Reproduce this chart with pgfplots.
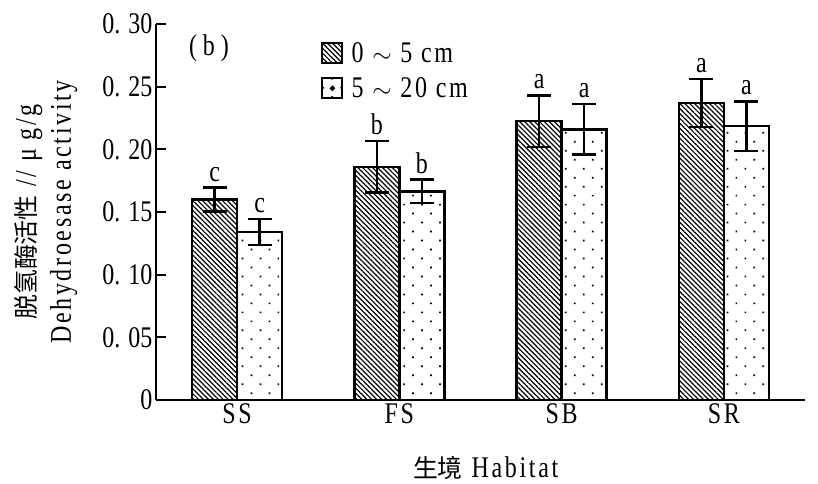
\documentclass[border=0pt]{standalone}
\usepackage{fontspec}
\setmainfont{Liberation Serif}[FakeStretch=0.8]
\newfontfamily\lsfont{Liberation Serif}[FakeStretch=0.8, LetterSpace=9]
\newfontfamily\cjk{Noto Sans CJK SC}[Scale=0.83]
\usepackage{pgfplots}
\pgfplotsset{compat=1.18}
\usepackage{pgfplotstable}
\usetikzlibrary{patterns.meta}

\pgfplotstableread{
x y e lab
0 0.160 0.0095 c
1 0.186 0.0205 b
2 0.2225 0.0205 a
3 0.237 0.0190 a
}\tabA
\pgfplotstableread{
x y e lab
0 0.134 0.0105 c
1 0.1665 0.0093 b
2 0.216 0.0203 a
3 0.2185 0.0198 a
}\tabB

\begin{document}
\begin{tikzpicture}[font=\fontsize{30}{36}\selectfont]
\useasboundingbox (0,0) rectangle (818pt,483pt);
\begin{axis}[
  at={(156pt,83pt)}, anchor=south west,
  width=649pt, height=376pt, scale only axis,
  xmin=-0.5, xmax=3.5, ymin=0, ymax=0.30,
  clip=false,
  axis x line*=bottom, axis y line*=left,
  axis line style={line width=2.5pt, -},
  ytick={0,0.05,0.10,0.15,0.20,0.25,0.30},
  yticklabels={0,0. 05,0. 10,0. 15,0. 20,0. 25,0. 30},
  major tick length=10pt,
  minor tick length=5pt,
  tick align=inside,
  tick style={line width=2pt, black},
  xtick={0,1,2,3}, xticklabels={SS,FS,SB,SR},
  xticklabel style={font=\fontsize{30}{36}\lsfont},
  xtick style={draw=none},
  minor xtick={-0.5,0.5,1.5,2.5,3.5},
  xlabel={{\cjk 生境} Habitat},
  xlabel style={at={(axis description cs:0.508,-0.181)}, anchor=center, font=\fontsize{30}{36}\lsfont},
  ylabel={{\cjk 脱氢酶活性} // μ g/g\\Dehydroesase activity},
  ylabel style={at={(axis description cs:-0.1156,0.5)}, anchor=south, align=center, font=\fontsize{30}{35}\lsfont},
  legend style={at={(0.25,0.963)}, anchor=north west, draw=none, fill=none,
    row sep=10pt, cells={anchor=west}, font=\fontsize{30}{36}\lsfont},
]
\addplot[ybar, bar width=0.277, bar shift=-0.1385, draw=black, line width=2.5pt,
  pattern={Lines[angle=-45,distance=3.5pt,line width=1.2pt]},
  legend image code/.code={\draw[pattern={Lines[angle=-45,distance=3.5pt,line width=1.2pt]}, line width=2pt] (0pt,-10pt) rectangle (20pt,10pt); \path (26pt,0pt);}]
  table[x=x, y=y] {\tabA};
\addlegendentry{0 $\sim$ 5 cm}
\addplot[ybar, bar width=0.277, bar shift=0.1385, draw=black, line width=2.5pt,
  pattern={Dots[distance=12.7pt,angle=45,radius=1.2pt]},
  legend image code/.code={\draw[line width=2pt] (0pt,-10pt) rectangle (20pt,10pt); \fill (10pt,0pt) circle (1.2pt); \path (26pt,0pt);}]
  table[x=x, y=y] {\tabB};
\addlegendentry{5 $\sim$ 20 cm}
% error bars
\addplot[forget plot, draw=none, mark=none,
  error bars/.cd, y dir=both, y explicit,
  error bar style={draw=black, line width=2.5pt},
  error mark options={draw=black, line width=2.5pt, mark size=12pt, rotate=90}]
  table[x expr=\thisrow{x}-0.1385, y=y, y error=e] {\tabA};
\addplot[forget plot, draw=none, mark=none,
  error bars/.cd, y dir=both, y explicit,
  error bar style={draw=black, line width=2.5pt},
  error mark options={draw=black, line width=2.5pt, mark size=12pt, rotate=90}]
  table[x expr=\thisrow{x}+0.1385, y=y, y error=e] {\tabB};
% significance letters
\addplot[draw=none, mark=none, forget plot, nodes near coords, point meta=explicit symbolic,
  nodes near coords style={anchor=south, inner sep=0pt, yshift=6pt}]
  table[x expr=\thisrow{x}-0.1385, y expr=\thisrow{y}+\thisrow{e}, meta=lab] {\tabA};
\addplot[draw=none, mark=none, forget plot, nodes near coords, point meta=explicit symbolic,
  nodes near coords style={anchor=south, inner sep=0pt, yshift=6pt}]
  table[x expr=\thisrow{x}+0.1385, y expr=\thisrow{y}+\thisrow{e}, meta=lab] {\tabB};
\node at (rel axis cs:0.0817,0.936) {( b )};
\end{axis}
\end{tikzpicture}
\end{document}
